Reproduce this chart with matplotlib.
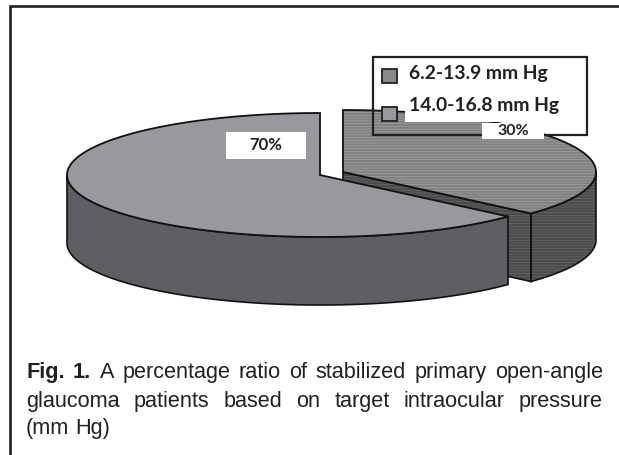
import numpy as np
import matplotlib.pyplot as plt
from matplotlib.patches import Polygon, Rectangle

plt.rcParams['hatch.linewidth'] = 0.5

# data
labels = ['6.2-13.9 mm Hg', '14.0-16.8 mm Hg']
shares = [30, 70]
share_text = ['30%', '70%']
caption_bold = 'Fig. 1.'
caption_lines = [
    'A percentage ratio of stabilized primary open-angle',
    'glaucoma patients based on target intraocular pressure',
    '(mm Hg)',
]

# pie geometry, in pixels of the page
rx, ry, depth = 253, 62, 68
small_c = (343, 172)
large_c = (320, 175)
persp = 1.632  # the tilted pie stretches the slices near the viewer

TOP_COL = '#98999d'
SIDE_COL = '#5e5f63'
HATCH_TOP = '#a4a4a4'
HATCH_SIDE = '#6a6a6a'


def warp(share):
    # share of the circle -> angle on the drawn ellipse, clockwise from the top
    a = share / 100 * np.pi
    return 2 * np.arctan(persp * np.tan(a))


def rim(c, t):
    return np.column_stack([c[0] + rx * np.sin(t), c[1] - ry * np.cos(t)])


def down(p):
    return p + np.array([0, depth])


fig = plt.figure(figsize=(6.19, 4.55), dpi=100)
ax = fig.add_axes([0, 0, 1, 1])
ax.set_xlim(0, 619)
ax.set_ylim(455, 0)
ax.axis('off')

# page frame, only top and left
ax.plot([10, 10, 619], [455, 6, 6], color='#231f20', lw=1.9, solid_joinstyle='miter')

end = warp(shares[0])

# small slice, pulled out to the right
t = np.linspace(0, end, 200)
arc = rim(small_c, t)
vis = t >= np.pi / 2
side = np.vstack([arc[vis], down(arc[vis])[::-1]])
ax.add_patch(Polygon(side, fc='#4b4b4d', ec=HATCH_SIDE, hatch='------', lw=0, zorder=2))
ax.add_patch(Polygon(side, fill=False, ec='#111111', lw=1.2, zorder=2.1))

v = np.array(small_c, dtype=float)
tip = arc[-1]
cut = np.array([v, tip, down(tip), down(v)])
ax.add_patch(Polygon(cut, fc='#4b4b4d', ec=HATCH_SIDE, hatch='------', lw=0, zorder=2))
ax.add_patch(Polygon(cut, fill=False, ec='#111111', lw=1.2, zorder=2.1))

top = np.vstack([v, arc])
ax.add_patch(Polygon(top, fc='#808082', ec=HATCH_TOP, hatch='------', lw=0, zorder=3))
ax.add_patch(Polygon(top, fill=False, ec='#111111', lw=1.3, zorder=3.1))

# large slice
t = np.linspace(end, 2 * np.pi, 400)
arc = rim(large_c, t)
vis = (t >= end) & (t <= 3 * np.pi / 2)
side = np.vstack([arc[vis], down(arc[vis])[::-1]])
ax.add_patch(Polygon(side, fc=SIDE_COL, ec='#111111', lw=1.2, zorder=4))
top = np.vstack([np.array(large_c, dtype=float), arc])
ax.add_patch(Polygon(top, fc=TOP_COL, ec='#111111', lw=1.3, zorder=5))

# legend: frame is open so the pie shows through, only the text has a white block
ax.add_patch(Rectangle((373, 57), 214, 78, fill=False, ec='#231f20', lw=1.6, zorder=6))
ax.add_patch(Rectangle((405, 59), 172, 63, fc='white', ec='none', zorder=6.1))
ax.add_patch(Rectangle((382, 69), 15, 14, fc='#8a8a8c', ec='#231f20', lw=1.3, zorder=7))
ax.add_patch(Rectangle((382, 107), 15, 14, fc=TOP_COL, ec='#231f20', lw=1.3, zorder=7))
for lab, y in zip(labels, [74, 105]):
    ax.text(409, y, lab, family='Lato', weight='bold', fontsize=13.9, color='#231f20',
            va='center', ha='left', zorder=8)

# value labels on white blocks
ax.add_patch(Rectangle((482, 123), 62, 16, fc='white', ec='none', zorder=7))
ax.text(513, 131, share_text[0], family='Lato', weight='bold', fontsize=11.5,
        color='#231f20', ha='center', va='center', zorder=8)
ax.add_patch(Rectangle((226, 132), 80, 27, fc='white', ec='none', zorder=7))
ax.text(266, 145.5, share_text[1], family='Lato', weight='bold', fontsize=12,
        color='#231f20', ha='center', va='center', zorder=8)

# caption, justified by hand between the two margins
x_left, x_right = 26, 603
font = dict(family='Liberation Sans', fontsize=15.6, color='#231f20', va='baseline', zorder=8)
fig.canvas.draw()
rend = fig.canvas.get_renderer()


def width(s, **kw):
    tx = ax.text(0, 0, s, **{**font, **kw})
    w = tx.get_window_extent(rend).width
    tx.remove()
    return w


def put_line(words, y, justify=True):
    ws = [width(w, **kw) for w, kw in words]
    if justify and len(words) > 1:
        gap = (x_right - x_left - sum(ws)) / (len(words) - 1)
    else:
        gap = 0.278 * font['fontsize'] * 100 / 72
    x = x_left
    for (w, kw), wd in zip(words, ws):
        ax.text(x, y, w, **{**font, **kw})
        x += wd + gap


first = [(w, {'weight': 'bold'}) for w in caption_bold.split()]
first += [(w, {}) for w in caption_lines[0].split()]
put_line(first, 378)
put_line([(w, {}) for w in caption_lines[1].split()], 407)
put_line([(w, {}) for w in caption_lines[2].split()], 434, justify=False)

fig.savefig('out.png', dpi=100)
